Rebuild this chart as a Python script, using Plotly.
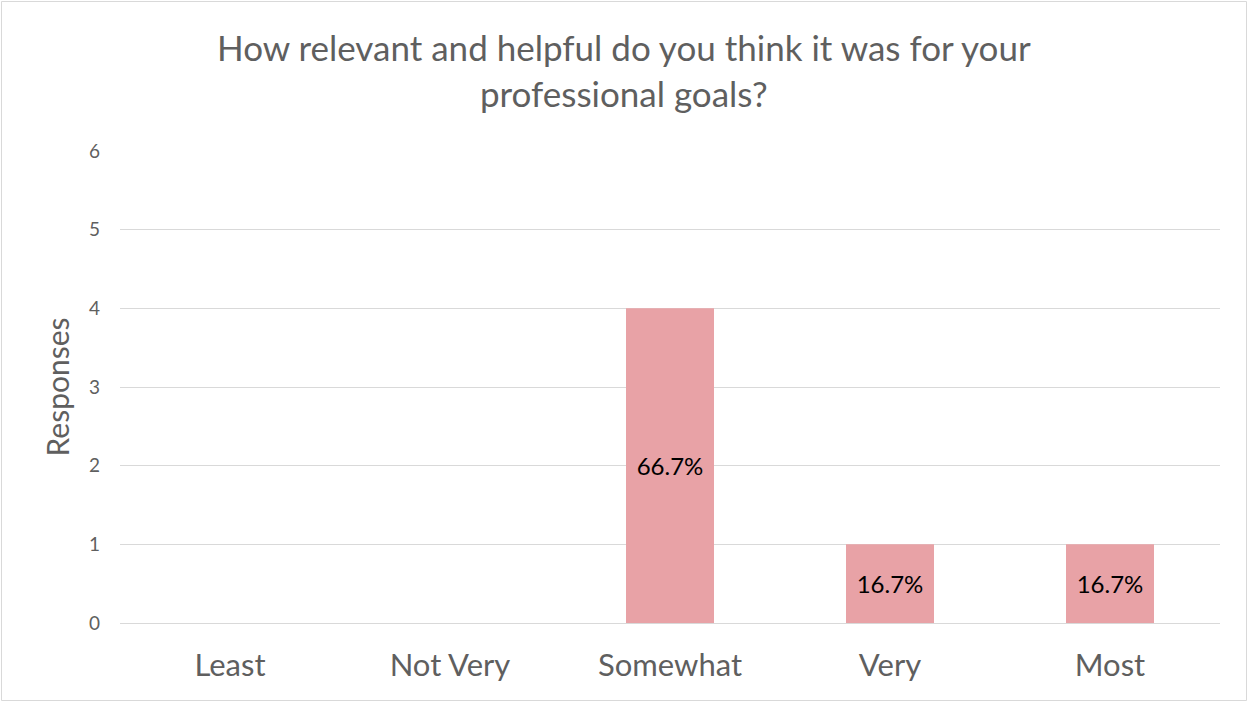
import plotly.graph_objects as go

# Survey responses per rating level
categories = ["Least", "Not Very", "Somewhat", "Very", "Most"]
responses = [0, 0, 4, 1, 1]
pct_labels = ["", "", "66.7%", "16.7%", "16.7%"]
y_ticks = [0, 1, 2, 3, 4, 5, 6]
chart_title = "How relevant and helpful do you think it was for your<br>professional goals?"

W, H = 1248, 702
ML, MR, MT, MB = 120, 28, 151, 79
PW, PH = W - ML - MR, H - MT - MB
FONT = "Lato, Open Sans, sans-serif"
GREY = "#5f5f5f"

fig = go.Figure(
    go.Bar(
        x=categories,
        y=responses,
        text=pct_labels,
        textposition="inside",
        insidetextanchor="middle",
        textangle=0,
        textfont=dict(family=FONT, size=24, color="#000000"),
        marker=dict(color="#E8A2A6", line=dict(width=0)),
        width=0.4,
        hoverinfo="x+y",
    )
)

fig.update_layout(
    width=W,
    height=H,
    margin=dict(l=ML, r=MR, t=MT, b=MB),
    paper_bgcolor="white",
    plot_bgcolor="white",
    showlegend=False,
    font=dict(family=FONT, color=GREY),
    uniformtext=dict(minsize=8, mode="show"),
    xaxis=dict(
        showgrid=False,
        showline=False,
        ticks="",
        tickfont=dict(size=31, color=GREY),
        ticklabelstandoff=21,
        fixedrange=True,
    ),
    yaxis=dict(
        range=[0, 6],
        tickvals=y_ticks,
        showgrid=True,
        gridcolor="#D9D9D9",
        gridwidth=1,
        zeroline=True,
        zerolinecolor="#D9D9D9",
        zerolinewidth=1,
        showline=False,
        ticks="",
        tickfont=dict(size=19, color=GREY),
        ticklabelstandoff=19,
        title=dict(text="Responses", font=dict(size=30, color=GREY), standoff=10),
        fixedrange=True,
    ),
    annotations=[
        dict(
            text=chart_title,
            xref="paper",
            yref="paper",
            x=(W / 2 - ML) / PW,
            y=(H - MB - 70) / PH,
            xanchor="center",
            yanchor="middle",
            showarrow=False,
            align="center",
            font=dict(family=FONT, size=35, color=GREY),
        )
    ],
    shapes=[
        dict(
            type="rect",
            xref="paper",
            yref="paper",
            x0=(1.5 - ML) / PW,
            x1=(W - 1.5 - ML) / PW,
            y0=-(MB - 1.5) / PH,
            y1=(H - 1.5 - MB) / PH,
            line=dict(color="#D9D9D9", width=1),
            fillcolor="rgba(0,0,0,0)",
            layer="below",
        )
    ],
)

fig.write_html("out.html")
